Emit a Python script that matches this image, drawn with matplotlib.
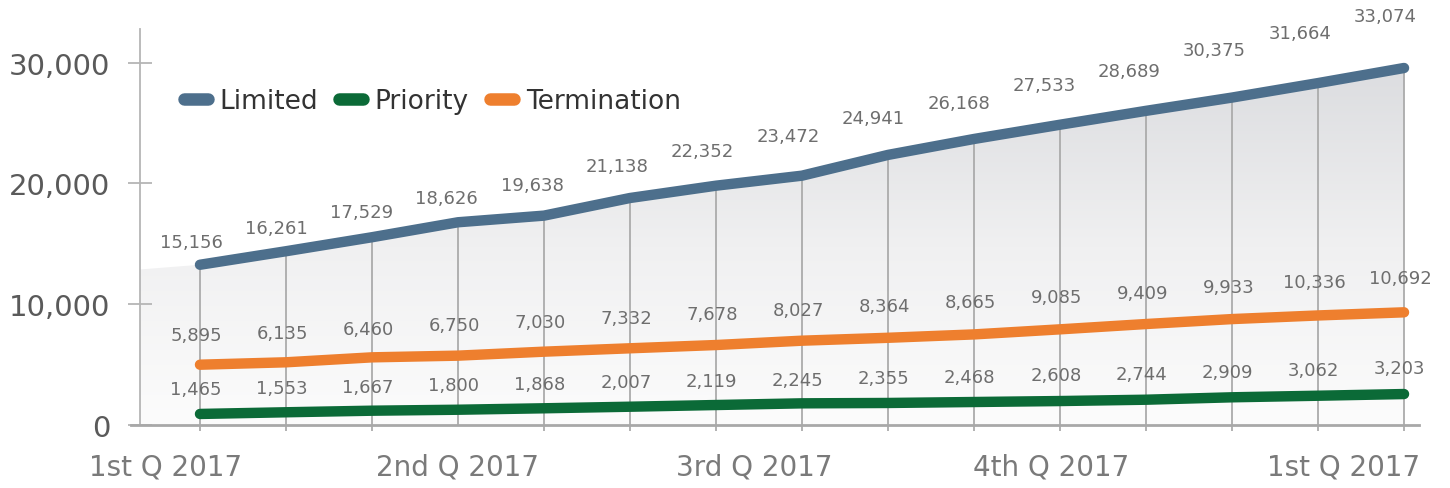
import numpy as np
import matplotlib
matplotlib.use("Agg")
import matplotlib.pyplot as plt
from matplotlib.colors import LinearSegmentedColormap

# values printed on the chart
limited_lbl = [15156, 16261, 17529, 18626, 19638, 21138, 22352, 23472, 24941,
               26168, 27533, 28689, 30375, 31664, 33074]
priority_lbl = [1465, 1553, 1667, 1800, 1868, 2007, 2119, 2245, 2355,
                2468, 2608, 2744, 2909, 3062, 3203]
termination_lbl = [5895, 6135, 6460, 6750, 7030, 7332, 7678, 8027, 8364,
                   8665, 9085, 9409, 9933, 10336, 10692]

# where the lines are actually drawn
limited_line = [13250, 14370, 15530, 16770, 17320, 18780, 19800, 20630, 22350,
                23670, 24850, 26000, 27100, 28300, 29550]
termination_line = [4970, 5170, 5580, 5720, 6050, 6330, 6600, 6960, 7200,
                     7480, 7900, 8340, 8750, 9050, 9310]
priority_line = [890, 1030, 1160, 1240, 1360, 1490, 1630, 1770, 1800,
                 1880, 1960, 2070, 2270, 2400, 2540]

quarter_labels = ['1st Q 2017', '2nd Q 2017', '3rd Q 2017', '4th Q 2017', '1st Q 2017']
quarter_pos = [-0.4, 3.0, 6.45, 9.9, 13.3]

c_lim = '#4d6f8c'
c_pri = '#0b6a37'
c_ter = '#ee7f2e'
c_txt = '#6e6e6e'
c_axis = '#a8a8a8'

plt.rcParams['font.family'] = ['DejaVu Sans']

fig = plt.figure(figsize=(14.5, 4.89), dpi=100)
ax = fig.add_axes([131 / 1450, 1 - 425.7 / 489, 1288 / 1450, 395.7 / 489])

x = np.arange(len(limited_lbl))
xmin, xmax = -0.802, 14.174
spine_x = -0.698

# grey gradient area under the Limited line
left_val = limited_line[0] - (limited_line[1] - limited_line[0]) * 0.5 * (0 - spine_x)
fx = np.concatenate([[spine_x], x])
fy = np.concatenate([[left_val], limited_line])
poly = ax.fill_between(fx, 0, fy, facecolor='none', edgecolor='none')
cmap = LinearSegmentedColormap.from_list('g', ['#fcfcfc', '#f0f0f1', '#dcdde0'])
grad = np.linspace(0, 1, 256).reshape(-1, 1)
im = ax.imshow(grad, cmap=cmap, origin='lower', aspect='auto',
               extent=[spine_x, x[-1], 0, max(limited_line)], zorder=0)
im.set_clip_path(poly.get_paths()[0], transform=ax.transData)
ax.set_xlim(xmin, xmax)
ax.set_ylim(0, 32780)

# vertical drop lines
ax.vlines(x, 0, limited_line, color='#ababab', lw=1.3, zorder=1)

lw = 7.5
ax.plot(x, limited_line, color=c_lim, lw=lw, solid_capstyle='round', zorder=3, label='Limited')
ax.plot(x, priority_line, color=c_pri, lw=lw, solid_capstyle='round', zorder=3, label='Priority')
ax.plot(x, termination_line, color=c_ter, lw=lw, solid_capstyle='round', zorder=3, label='Termination')

# value labels
for i in x:
    dx = (-9 - 10 * i / 14) * 0.72
    ax.annotate(f'{limited_lbl[i]:,}', (i, limited_lbl[i]), xytext=(dx, 0.5 * i),
                textcoords='offset points', ha='center', va='center',
                fontsize=13, color=c_txt, annotation_clip=False)
    ax.annotate(f'{termination_lbl[i]:,}', (i, termination_lbl[i]), xytext=(-2.5, 13),
                textcoords='offset points', ha='center', va='center',
                fontsize=13, color=c_txt)
    ax.annotate(f'{priority_lbl[i]:,}', (i, priority_lbl[i]), xytext=(-3, 13),
                textcoords='offset points', ha='center', va='center',
                fontsize=13, color=c_txt)

# axes styling
for s in ['top', 'right']:
    ax.spines[s].set_visible(False)
ax.spines['left'].set_position(('data', spine_x))
ax.spines['left'].set_color('#b5b5b5')
ax.spines['left'].set_linewidth(1.3)
ax.spines['bottom'].set_color(c_axis)
ax.spines['bottom'].set_linewidth(2)

ax.set_yticks([0, 10000, 20000, 30000])
ax.set_yticklabels(['0', '10,000', '20,000', '30,000'])
ax.tick_params(axis='y', direction='inout', length=17, width=1.3, color='#b5b5b5',
               labelsize=21, labelcolor='#5a5a5a', pad=13)

ax.set_xticks(quarter_pos)
ax.set_xticklabels(quarter_labels)
ax.set_xticks(x, minor=True)
ax.tick_params(axis='x', which='major', length=0, labelsize=20, labelcolor='#7a7a7a', pad=20)
ax.tick_params(axis='x', which='minor', direction='out', length=4, width=1.3, color='#ababab')

leg = ax.legend(loc='center left', bbox_to_anchor=(0.041, 0.818), ncol=3, frameon=False,
                fontsize=19, handlelength=0.9, handletextpad=0.45, columnspacing=0.8,
                borderpad=0, borderaxespad=0)
for h in leg.get_lines():
    h.set_linewidth(9)
    h.set_solid_capstyle('round')
for t in leg.get_texts():
    t.set_color('#333333')

fig.savefig('out.png', dpi=100)
